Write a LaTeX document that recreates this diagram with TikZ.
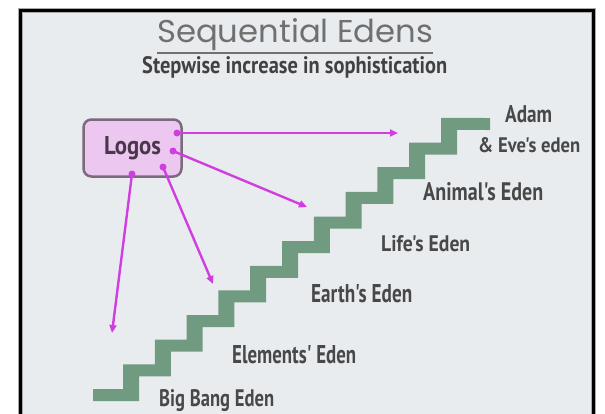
\documentclass[tikz,border=0pt]{standalone}
\usepackage{fontspec}
\usepackage{graphicx}
\usetikzlibrary{arrows.meta}
\newfontfamily\titlefont{Poppins}
\newfontfamily\labelfont{PT Sans}
\definecolor{panel}{RGB}{233,236,239}
\definecolor{framehalo}{RGB}{170,170,170}
\definecolor{stairgreen}{RGB}{112,155,128}
\definecolor{titlegray}{RGB}{112,112,112}
\definecolor{labelgray}{RGB}{72,72,72}
\definecolor{magentaline}{RGB}{208,62,224}
\definecolor{logosfill}{RGB}{236,200,240}
\definecolor{logosedge}{RGB}{125,105,125}
\definecolor{logostext}{RGB}{75,55,75}
% scale a piece of text to a given width and height (in pt)
\newcommand\fitbox[3]{\resizebox{#1pt}{#2pt}{#3}}
\begin{document}
\begin{tikzpicture}[x=1pt,y=-1pt,
  lbl/.style={anchor=base west, inner sep=0pt, text=labelgray, font=\labelfont\bfseries},
  link/.style={draw=magentaline, line width=2.4pt, -{Triangle[length=8pt,width=7pt]}},
  dot/.style={fill=magentaline},
  logosbox/.style={draw=logosedge, fill=logosfill, line width=2.5pt,
    rounded corners=8pt, minimum width=98pt, minimum height=57pt,
    inner sep=0pt, text=logostext, font=\labelfont\bfseries}]
\useasboundingbox (0,0) rectangle (605,413);
\fill[white] (0,0) rectangle (605,413);

% slide panel with its frame (open at the bottom)
\fill[panel] (20.5,10.5) rectangle (593,420);
\draw[framehalo, line width=5pt] (20.5,420) -- (20.5,10.5) -- (593,10.5) -- (593,420);
\draw[black, line width=3pt] (20.5,420) -- (20.5,10.5) -- (593,10.5) -- (593,420);

% headings
\node[anchor=base west, inner sep=0pt, text=titlegray] (title) at (157,42)
  {\titlefont\fitbox{276}{24}{Sequential Edens}};
\draw[titlegray, line width=1.6pt] (157,53) -- (433,53);
\node[lbl, text=labelgray!90!black] (subtitle) at (142,73)
  {\fitbox{305}{17}{Stepwise increase in sophistication}};

% staircase: treads 24.64 apart, risers 31.8 apart
\fill[stairgreen] (93,389)
  \foreach \k in {0,...,10} {
    -- ({131+31.8*\k-8},{395-24.64*\k-6})
    -- ({131+31.8*\k-8},{395-24.64*(\k+1)-6}) }
  -- (490,118) -- (490,130)
  \foreach \k in {10,...,0} {
    -- ({131+31.8*\k+8},{395-24.64*(\k+1)+6})
    -- ({131+31.8*\k+8},{395-24.64*\k+6}) }
  -- (93,401) -- cycle;

% step labels
\node[lbl] (adam)     at (505,122) {\fitbox{47}{17}{Adam}};
\node[lbl] (eve)      at (478,152) {\fitbox{102}{15}{\& Eve's eden}};
\node[lbl] (animal)   at (423,200) {\fitbox{120}{18}{Animal's Eden}};
\node[lbl] (life)     at (381,251) {\fitbox{89}{16}{Life's Eden}};
\node[lbl] (earth)    at (311,302) {\fitbox{101}{18}{Earth's Eden}};
\node[lbl] (elements) at (232,363) {\fitbox{124}{18}{Elements' Eden}};
\node[lbl] (bigbang)  at (159,406) {\fitbox{115}{17}{Big Bang Eden}};

% Logos and its links to the stairs
\node[logosbox] (logos) at (132.5,148) {\fitbox{57}{18}{Logos}};

\coordinate (s1) at (177,133);
\coordinate (s2) at (173,151);
\coordinate (s3) at (163,167);
\coordinate (s4) at (132,174);
\coordinate (e1) at (398,133);
\coordinate (e2) at (307,207);
\coordinate (e3) at (213,284);
\coordinate (e4) at (112,333);

\draw[link] (s1) -- (e1);
\draw[link] (s2) -- (e2);
\draw[link] (s3) -- (e3);
\draw[link] (s4) -- (e4);
\foreach \s in {s1,s2,s3,s4} \fill[dot] (\s) circle (3.5pt);
\end{tikzpicture}
\end{document}
